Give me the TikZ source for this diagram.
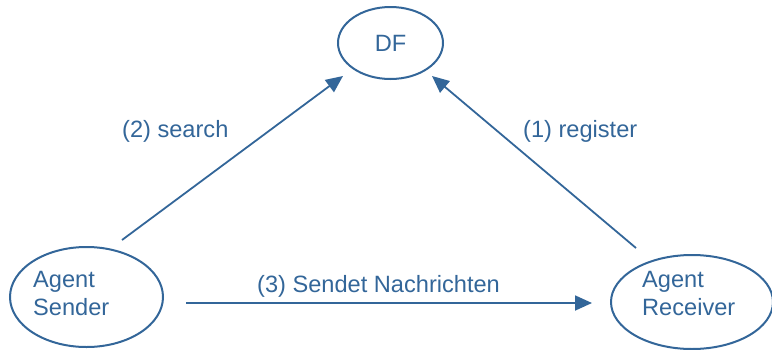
\documentclass[tikz,border=0pt]{standalone}
\usepackage{fontspec}
\setmainfont{Liberation Sans}
\usetikzlibrary{shapes.geometric,arrows.meta}
\definecolor{agentblue}{RGB}{51,102,153}
\tikzset{
  agent/.style={ellipse, draw=agentblue, line width=2pt, inner sep=0pt},
  msg/.style={text=agentblue, font=\fontsize{23.6}{28}\selectfont, inner sep=0pt},
  flow/.style={draw=agentblue, line width=1.8pt, -{Triangle[length=17pt,width=15pt]}}
}
\begin{document}
\begin{tikzpicture}[x=1pt,y=-1pt]
  \useasboundingbox (0,0) rectangle (772,349);

  % Define nodes
  \node[agent, minimum width=105pt, minimum height=72pt, msg] (df) at (390.5,43) {DF};
  \node[agent, minimum width=153pt, minimum height=100pt] (sender) at (86.5,297) {};
  \node[agent, minimum width=162pt, minimum height=94pt] (receiver) at (692,302) {};
  \node[msg, anchor=base west, align=left] (sender_txt) at (33,315) {Agent\\Sender};
  \node[msg, anchor=base west, align=left] (receiver_txt) at (642,315) {Agent\\Receiver};

  \node[msg, anchor=base west] (search) at (122,137) {(2) search};
  \node[msg, anchor=base west] (register) at (523,137) {(1) register};
  \node[msg, anchor=base west] (send) at (257,292) {(3) Sendet Nachrichten};

  % Arrow ends
  \coordinate (search_from) at (122,240);
  \coordinate (search_to) at (343,76);
  \coordinate (register_from) at (636,248);
  \coordinate (register_to) at (432,76);
  \coordinate (send_from) at (186,303);
  \coordinate (send_to) at (592,303);

  % Connect the nodes
  \draw[flow] (search_from) -- (search_to);
  \draw[flow] (register_from) -- (register_to);
  \draw[flow] (send_from) -- (send_to);

\end{tikzpicture}
\end{document}
